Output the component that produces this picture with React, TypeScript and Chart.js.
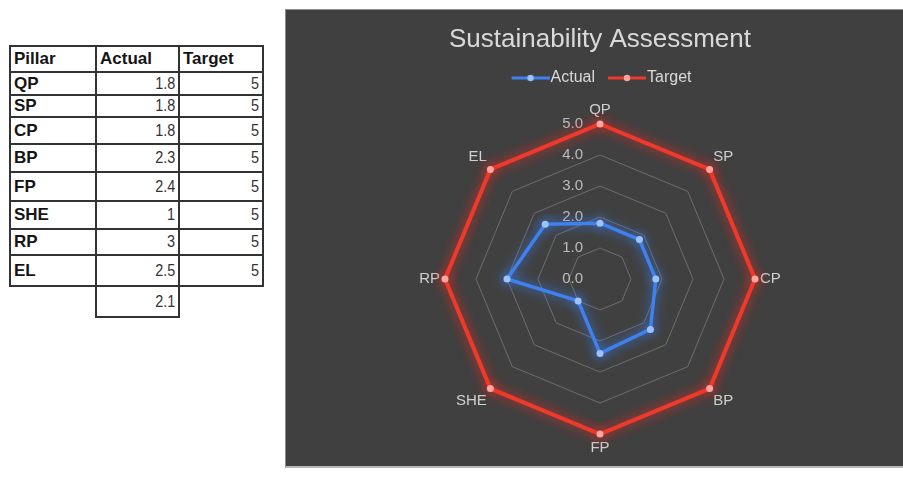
import React, { useEffect, useRef } from "react";
import { Chart, registerables, layouts } from "chart.js";

Chart.register(...registerables);

// ---------- data ----------
const pillars = ["QP", "SP", "CP", "BP", "FP", "SHE", "RP", "EL"];
const actualScores = [1.8, 1.8, 1.8, 2.3, 2.4, 1, 3, 2.5];
const targetScores = [5, 5, 5, 5, 5, 5, 5, 5];
const actualAverage = 2.1;
const tableHeaders = ["Pillar", "Actual", "Target"];
const seriesNames = ["Actual", "Target"];
const chartTitle = "Sustainability Assessment";
const scaleMin = 0;
const scaleMax = 5;
const scaleStep = 1;

// ---------- layout (table grid lines, page px) ----------
const COLS = [10, 96, 179, 263];
const ROWS = [46, 72, 95, 117, 144, 172, 201, 229, 255, 286, 317];
const LEGEND_GAP = 5;

const FONT = '"Liberation Sans", Arial, Helvetica, sans-serif';

const BLUE = "#3f82ee";
const BLUE_DOT = "#9cc2ff";
const RED = "#ee3a2c";
const RED_DOT = "#ffa6a0";

function makeLegendLine(color: string, dot: string): HTMLCanvasElement {
  const c = document.createElement("canvas");
  c.width = 48;
  c.height = 10;
  const g = c.getContext("2d")!;
  g.strokeStyle = color;
  g.lineWidth = 3;
  g.beginPath();
  g.moveTo(10, 5);
  g.lineTo(48, 5);
  g.stroke();
  g.fillStyle = dot;
  g.beginPath();
  g.arc(29, 5, 3.2, 0, Math.PI * 2);
  g.fill();
  return c;
}

const glowPlugin = {
  id: "glow",
  beforeDatasetDraw(chart: any, args: any) {
    const ds = chart.data.datasets[args.index];
    const ctx = chart.ctx;
    ctx.save();
    ctx.shadowColor = ds.glowColor;
    ctx.shadowBlur = 12;
  },
  afterDatasetDraw(chart: any) {
    chart.ctx.restore();
  },
};

const tickLabelPlugin = {
  id: "tickLabels",
  beforeDatasetsDraw(chart: any) {
    const scale = chart.scales.r;
    const ctx = chart.ctx;
    ctx.save();
    ctx.font = `15px ${FONT}`;
    ctx.fillStyle = "#bdbdbd";
    ctx.textAlign = "right";
    ctx.textBaseline = "middle";
    scale.ticks.forEach((t: any) => {
      const d = scale.getDistanceFromCenterForValue(t.value);
      ctx.fillText(Number(t.value).toFixed(1), scale.xCenter - 17, scale.yCenter - d);
    });
    ctx.restore();
  },
};

// empty layout box that sits between the legend and the plot area
const spacerPlugin = {
  id: "legendSpacer",
  beforeInit(chart: any) {
    const box: any = {
      position: "top",
      weight: 0,
      fullSize: true,
      options: {},
      left: 0,
      top: 0,
      right: 0,
      bottom: 0,
      width: 0,
      height: 0,
      isHorizontal() {
        return true;
      },
      update(maxWidth: number, maxHeight: number) {
        box.width = maxWidth;
        box.height = Math.min(LEGEND_GAP, maxHeight);
      },
      getPadding() {
        return { left: 0, top: 0, right: 0, bottom: 0 };
      },
      draw() {},
    };
    (layouts as any).addBox(chart, box);
  },
};

function RadarChart() {
  const ref = useRef<HTMLCanvasElement | null>(null);
  useEffect(() => {
    if (!ref.current) return;
    const legendImgs = [makeLegendLine(BLUE, BLUE_DOT), makeLegendLine(RED, RED_DOT)];
    const chart = new Chart(ref.current, {
      type: "radar",
      data: {
        labels: pillars,
        datasets: [
          {
            label: seriesNames[0],
            data: actualScores,
            borderColor: BLUE,
            backgroundColor: "transparent",
            borderWidth: 3.5,
            pointRadius: 3.5,
            pointBorderWidth: 0,
            pointBackgroundColor: BLUE_DOT,
            fill: false,
            glowColor: "rgba(60,130,255,1)",
          } as any,
          {
            label: seriesNames[1],
            data: targetScores,
            borderColor: RED,
            backgroundColor: "transparent",
            borderWidth: 4,
            pointRadius: 3.5,
            pointBorderWidth: 0,
            pointBackgroundColor: RED_DOT,
            fill: false,
            glowColor: "rgba(255,40,30,0.95)",
          } as any,
        ],
      },
      options: {
        responsive: false,
        animation: false,
        layout: { padding: { top: 2, bottom: 10, left: 0, right: 0 } },
        plugins: {
          title: {
            display: true,
            text: chartTitle,
            color: "#d9d9d9",
            font: { family: FONT, size: 26, weight: "normal" as any },
            padding: { top: 12.4, bottom: 4.4 },
          },
          legend: {
            display: true,
            position: "top",
            labels: {
              color: "#d9d9d9",
              font: { family: FONT, size: 16 },
              usePointStyle: true,
              pointStyleWidth: 34,
              padding: 10,
              generateLabels(c: any) {
                const items = Chart.defaults.plugins.legend.labels.generateLabels(c);
                items.forEach((it: any, i: number) => {
                  it.pointStyle = legendImgs[i];
                });
                return items;
              },
            },
          },
          tooltip: { enabled: false },
        },
        scales: {
          r: {
            min: scaleMin,
            max: scaleMax,
            ticks: { stepSize: scaleStep, display: false },
            grid: { color: "#6e6e6e", lineWidth: 1, circular: false },
            angleLines: { display: false },
            pointLabels: {
              color: "#d0d0d0",
              font: { family: FONT, size: 15 },
              padding: 5,
            },
          },
        },
      } as any,
      plugins: [spacerPlugin, glowPlugin, tickLabelPlugin],
    });
    return () => chart.destroy();
  }, []);
  return <canvas ref={ref} width={628} height={457} style={{ display: "block" }} />;
}

function Cell(props: { r: number; c: number; text: string; bold?: boolean; right?: boolean }) {
  const { r, c, text, bold, right } = props;
  return (
    <div
      style={{
        position: "absolute",
        left: COLS[c] - 1,
        top: ROWS[r] - 1,
        width: COLS[c + 1] - COLS[c] + 2,
        height: ROWS[r + 1] - ROWS[r] + 2,
        border: "2px solid #333",
        boxSizing: "border-box",
        display: "flex",
        alignItems: "center",
        justifyContent: right ? "flex-end" : "flex-start",
        padding: "0 3px",
        fontFamily: FONT,
        fontSize: bold ? 17 : 16,
        fontWeight: bold ? 700 : 400,
        color: bold ? "#151515" : "#333333",
        whiteSpace: "nowrap",
      }}
    >
      <span style={bold ? {} : { display: "inline-block", transform: "scaleX(0.9)", transformOrigin: "right center" }}>
        {text}
      </span>
    </div>
  );
}

export default function App() {
  const cells: React.ReactNode[] = [];
  tableHeaders.forEach((h, c) => cells.push(<Cell key={`h${c}`} r={0} c={c} text={h} bold />));
  pillars.forEach((p, i) => {
    cells.push(<Cell key={`p${i}`} r={i + 1} c={0} text={p} bold />);
    cells.push(<Cell key={`a${i}`} r={i + 1} c={1} text={String(actualScores[i])} right />);
    cells.push(<Cell key={`t${i}`} r={i + 1} c={2} text={String(targetScores[i])} right />);
  });
  cells.push(<Cell key="avg" r={pillars.length + 1} c={1} text={String(actualAverage)} right />);

  return (
    <div
      style={{
        position: "fixed",
        left: 0,
        top: 0,
        width: 903,
        height: 481,
        overflow: "hidden",
        background: "#ffffff",
      }}
    >
      {cells}
      <div
        style={{
          position: "absolute",
          left: 285,
          top: 9,
          width: 640,
          height: 459,
          background: "#404040",
          borderLeft: "1px solid #8c8c8c",
          borderTop: "1px solid #8c8c8c",
          borderBottom: "2px solid #b8b8b8",
          boxSizing: "border-box",
        }}
      />
      <div style={{ position: "absolute", left: 286, top: 10 }}>
        <RadarChart />
      </div>
    </div>
  );
}
